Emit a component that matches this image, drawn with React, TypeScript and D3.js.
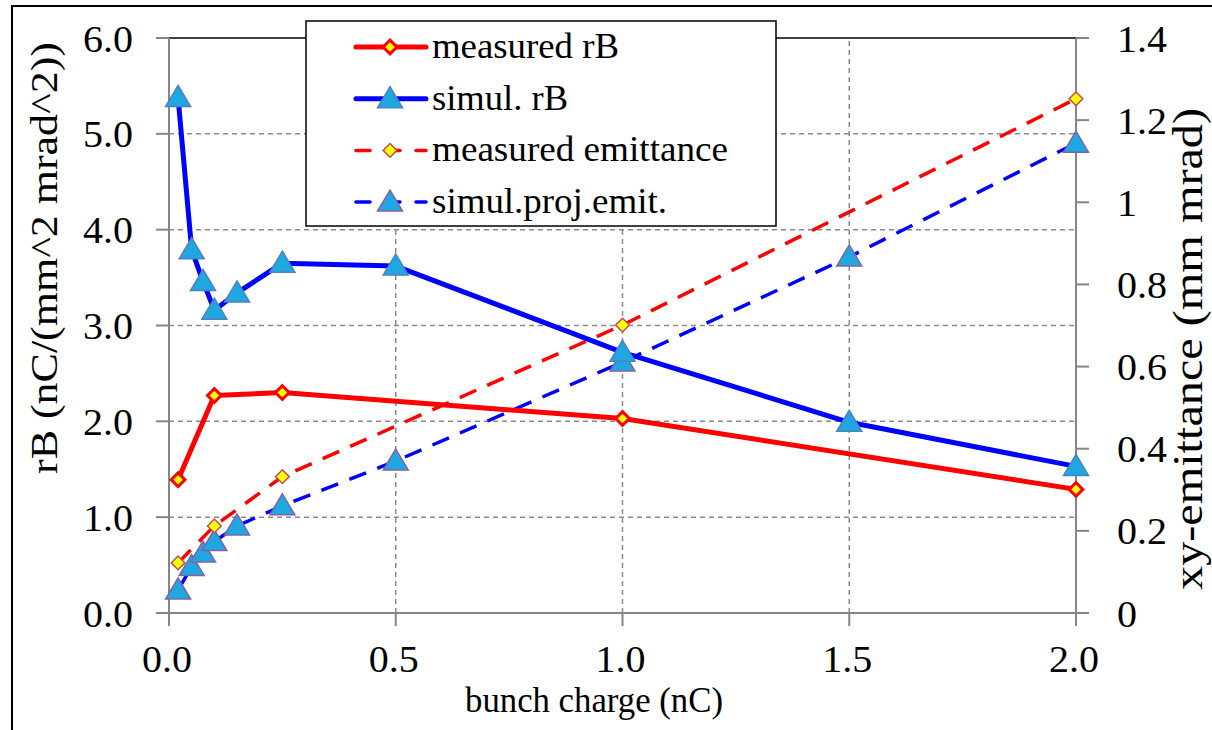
import * as d3 from 'd3';
import React, { useEffect, useRef } from 'react';

// bunch charge (nC)
const measRbQ = [0.02, 0.1, 0.25, 1.0, 2.0];
const measRb = [1.39, 2.27, 2.30, 2.03, 1.29];
const simRbQ = [0.02, 0.05, 0.075, 0.1, 0.15, 0.25, 0.5, 1.0, 1.5, 2.0];
const simRb = [5.38, 3.79, 3.46, 3.16, 3.34, 3.65, 3.62, 2.72, 1.99, 1.53];
const measEmitQ = [0.02, 0.1, 0.25, 1.0, 2.0];
const measEmit = [0.122, 0.212, 0.332, 0.701, 1.252];
const simEmitQ = [0.02, 0.05, 0.075, 0.1, 0.15, 0.25, 0.5, 1.0, 1.5, 2.0];
const simEmit = [0.056, 0.113, 0.146, 0.174, 0.212, 0.261, 0.37, 0.611, 0.867, 1.144];

const xTicks = [0, 0.5, 1.0, 1.5, 2.0];
const leftTicks = [0, 1, 2, 3, 4, 5, 6];
const rightTicks = [0, 0.2, 0.4, 0.6, 0.8, 1.0, 1.2, 1.4];
const legendLabels = ['measured rB', 'simul. rB', 'measured emittance', 'simul.proj.emit.'];
const legendWidths = [187, 136, 296, 235];

const W = 1212, H = 730;
const FONT = "'Times New Roman', 'Liberation Serif', Tinos, 'DejaVu Serif', serif";

// width a Times-like number label would take (digits 20px, dot 10px)
const numWidth = (s) => s.split('').reduce((a, c) => a + (c === '.' ? 10 : 20), 0);

const App = () => {
    const ref = useRef(null);

    useEffect(() => {
        const svg = d3.select(ref.current);
        svg.selectAll('*').remove();

        const x = d3.scaleLinear().domain([0, 2]).range([169, 1076]);
        const yL = d3.scaleLinear().domain([0, 6]).range([613, 38]);
        const yR = d3.scaleLinear().domain([0, 1.4]).range([613, 38]);

        // outer frame
        svg.append('path').attr('d', 'M12,' + H + ' L12,6 L' + W + ',6')
            .attr('fill', 'none').attr('stroke', '#000').attr('stroke-width', 2);

        const grid = svg.append('g').attr('stroke', '#8a8a8a').attr('stroke-width', 1.5)
            .attr('stroke-dasharray', '5,4');
        leftTicks.filter(t => t > 0 && t < 6).forEach(t => {
            grid.append('line').attr('x1', x(0)).attr('x2', x(2)).attr('y1', yL(t)).attr('y2', yL(t));
        });
        xTicks.filter(t => t > 0 && t < 2).forEach(t => {
            grid.append('line').attr('x1', x(t)).attr('x2', x(t)).attr('y1', yL(0)).attr('y2', yL(6));
        });

        // plot area top border
        svg.append('line').attr('x1', x(0)).attr('x2', x(2)).attr('y1', yL(6)).attr('y2', yL(6))
            .attr('stroke', '#000').attr('stroke-width', 1.5);

        const axisCol = '#868686';
        const ax = svg.append('g').attr('stroke', axisCol).attr('stroke-width', 2);
        ax.append('line').attr('x1', x(0)).attr('x2', x(0)).attr('y1', yL(0)).attr('y2', yL(6));
        ax.append('line').attr('x1', x(2)).attr('x2', x(2)).attr('y1', yR(0)).attr('y2', yR(1.4));
        ax.append('line').attr('x1', x(0) - 13).attr('x2', x(2) + 13).attr('y1', yL(0)).attr('y2', yL(0));
        leftTicks.forEach(t => {
            ax.append('line').attr('x1', x(0) - 13).attr('x2', x(0)).attr('y1', yL(t)).attr('y2', yL(t));
        });
        rightTicks.forEach(t => {
            ax.append('line').attr('x1', x(2)).attr('x2', x(2) + 13).attr('y1', yR(t)).attr('y2', yR(t));
        });
        xTicks.forEach(t => {
            ax.append('line').attr('x1', x(t)).attr('x2', x(t)).attr('y1', yL(0)).attr('y2', yL(0) + 13);
        });

        const txt = svg.append('g').attr('fill', '#000').style('font-family', FONT).style('font-size', '37px');
        const num = (sx, sy, s, anchor) => txt.append('text').attr('x', sx).attr('y', sy)
            .attr('text-anchor', anchor).attr('textLength', numWidth(s))
            .attr('lengthAdjust', 'spacingAndGlyphs').text(s);
        leftTicks.forEach(t => num(133, yL(t) + 13.5, d3.format('.1f')(t), 'end'));
        rightTicks.forEach(t => num(1117, yR(t) + 13.5, d3.format('~g')(+t.toFixed(1)), 'start'));
        xTicks.forEach(t => num(x(t) - 2, 672, d3.format('.1f')(t), 'middle'));

        txt.append('text').attr('x', 594).attr('y', 712).style('font-size', '36px')
            .attr('text-anchor', 'middle').attr('textLength', 258).attr('lengthAdjust', 'spacingAndGlyphs')
            .text('bunch charge (nC)');
        txt.append('text').attr('transform', 'translate(57,258) rotate(-90)').style('font-size', '37px')
            .attr('text-anchor', 'middle').attr('textLength', 432).attr('lengthAdjust', 'spacingAndGlyphs')
            .text('rB (nC/(mm^2 mrad^2))');
        txt.append('text').attr('transform', 'translate(1202,349) rotate(-90)')
            .style('font-size', '43px')
            .attr('text-anchor', 'middle').attr('textLength', 482).attr('lengthAdjust', 'spacingAndGlyphs')
            .text('xy-emittance (mm mrad)');

        const series = [
            { q: measRbQ, v: measRb, y: yL, color: '#ff0000', dash: null, w: 5, mk: 'diamond', mkStroke: '#ff0000' },
            { q: simRbQ, v: simRb, y: yL, color: '#0000ff', dash: null, w: 5, mk: 'triangle', mkStroke: '#4f81bd' },
            { q: measEmitQ, v: measEmit, y: yR, color: '#ff0000', dash: '18,12', w: 3.5, mk: 'diamond', mkStroke: '#c0504d' },
            { q: simEmitQ, v: simEmit, y: yR, color: '#0000ff', dash: '18,12', w: 3.5, mk: 'triangle', mkStroke: '#8064a2' },
        ];

        const diamond = d3.symbol().type(d3.symbolDiamond2).size(120);
        const tri = (cx, cy) => 'M' + cx + ',' + (cy - 12) + ' L' + (cx + 12.5) + ',' + (cy + 9) + ' L' + (cx - 12.5) + ',' + (cy + 9) + ' Z';

        const drawMarker = (g, s, cx, cy) => {
            if (s.mk === 'diamond') {
                g.append('path').attr('d', diamond()).attr('transform', 'translate(' + cx + ',' + cy + ')')
                    .attr('fill', '#ffff00').attr('stroke', s.mkStroke).attr('stroke-width', s.dash ? 1.5 : 3);
            } else {
                g.append('path').attr('d', tri(cx, cy)).attr('fill', '#1ea7e1')
                    .attr('stroke', s.mkStroke).attr('stroke-width', 1.5);
            }
        };

        // lines first, markers on top
        series.slice().reverse().forEach(s => {
            const line = d3.line().x((d, i) => x(s.q[i])).y(d => s.y(d));
            svg.append('path').datum(s.v).attr('d', line).attr('fill', 'none')
                .attr('stroke', s.color).attr('stroke-width', s.w)
                .attr('stroke-dasharray', s.dash).attr('stroke-linejoin', 'round');
        });
        series.slice().reverse().forEach(s => {
            const g = svg.append('g');
            s.v.forEach((d, i) => drawMarker(g, s, x(s.q[i]), s.y(d)));
        });

        // legend
        const lg = svg.append('g');
        lg.append('rect').attr('x', 306).attr('y', 21).attr('width', 470).attr('height', 205)
            .attr('fill', '#fff').attr('stroke', '#000').attr('stroke-width', 1.5);
        series.forEach((s, i) => {
            const ly = 47 + i * 51.7;
            lg.append('line').attr('x1', 356).attr('x2', 426).attr('y1', ly).attr('y2', ly)
                .attr('stroke', s.color).attr('stroke-width', s.w).attr('stroke-linecap', 'round')
                .attr('stroke-dasharray', s.dash ? '14,16' : null);
            drawMarker(lg, s, 390, ly);
            lg.append('text').attr('x', 432).attr('y', ly + 11)
                .attr('textLength', legendWidths[i]).attr('lengthAdjust', 'spacingAndGlyphs')
                .style('font-family', FONT).style('font-size', '35px').text(legendLabels[i]);
        });
    }, []);

    return (
        <svg ref={ref} width={W} height={H}
            style={{ position: 'absolute', left: 0, top: 0, background: '#fff' }}>
        </svg>
    );
};

export default App;
